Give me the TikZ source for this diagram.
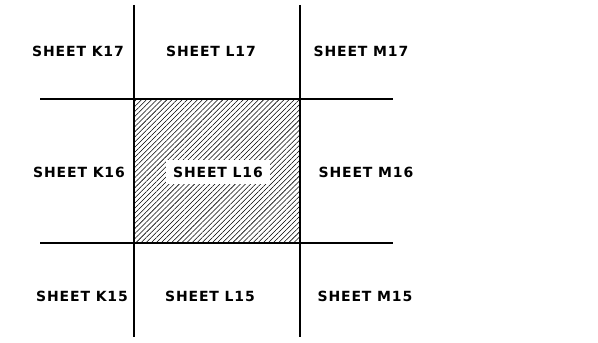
\documentclass[tikz,border=0pt]{standalone}
\usepackage{fontspec}
\setsansfont{DejaVu Sans}[LetterSpace=6]
\usetikzlibrary{patterns.meta}

\tikzset{
  sheetlabel/.style={font=\sffamily\bfseries\fontsize{14}{15}\selectfont, inner sep=1pt},
  gridline/.style={line width=1.3pt}
}

\begin{document}
\begin{tikzpicture}[x=1pt,y=1pt]
            \useasboundingbox (0,0) rectangle (598,343);

            % Corners of the centre sheet
            \coordinate (sw) at (134,100);
            \coordinate (ne) at (300,244);

            % Hatch the centre sheet
            \fill[pattern={Lines[angle=45,distance=3.6pt,line width=0.55pt]}] (sw) rectangle (ne);

            % Draw the grid lines
            \draw[gridline] (134,338) -- (134,6);
            \draw[gridline] (300,338) -- (300,6);
            \draw[gridline] (40,244) -- (393,244);
            \draw[gridline] (40,100) -- (393,100);

            % Label the sheets
            \node[sheetlabel] (k17) at (78,292) {SHEET K17};
            \node[sheetlabel] (l17) at (211,292) {SHEET L17};
            \node[sheetlabel] (m17) at (361,292) {SHEET M17};
            \node[sheetlabel] (k16) at (79,171) {SHEET K16};
            \node[sheetlabel, fill=white, inner xsep=7pt, inner ysep=7pt] (l16) at (218,171) {SHEET L16};
            \node[sheetlabel] (m16) at (366,171) {SHEET M16};
            \node[sheetlabel] (k15) at (82,47) {SHEET K15};
            \node[sheetlabel] (l15) at (210,47) {SHEET L15};
            \node[sheetlabel] (m15) at (365,47) {SHEET M15};
        \end{tikzpicture}
\end{document}
